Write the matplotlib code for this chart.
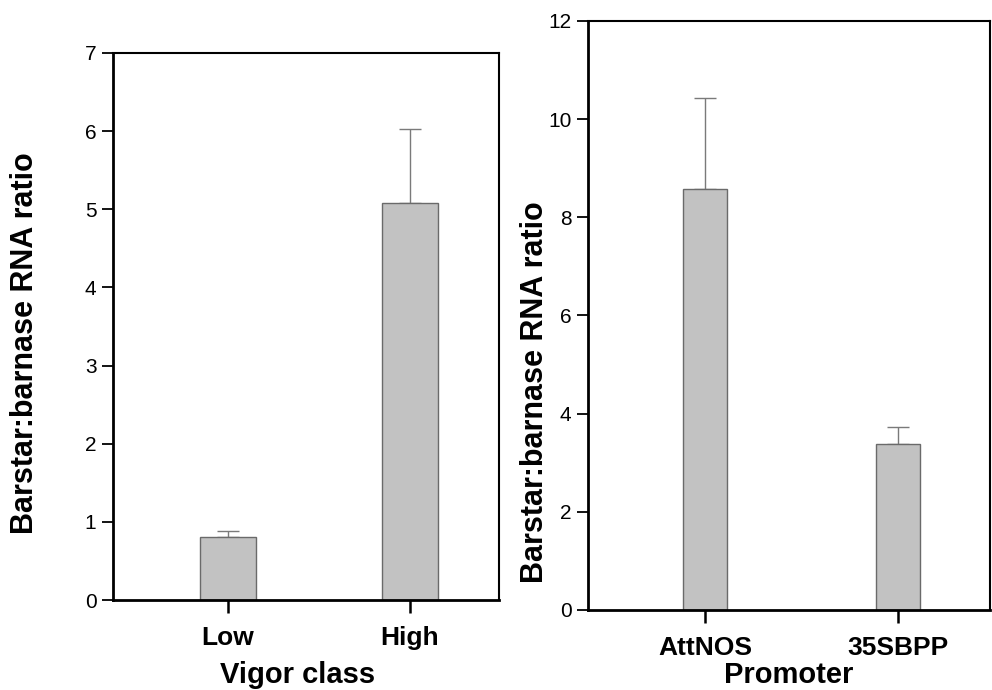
import matplotlib
matplotlib.use("Agg")
import matplotlib.pyplot as plt

plt.rcParams["font.family"] = ["Liberation Sans", "DejaVu Sans"]

# left panel
vigor = ["Low", "High"]
vigor_ratio = [0.80, 5.08]
vigor_err = [0.08, 0.94]

# right panel
promoter = ["AttNOS", "35SBPP"]
promoter_ratio = [8.57, 3.38]
promoter_err = [1.86, 0.34]

bar_col = "#c2c2c2"
edge_col = "#6a6a6a"

fig = plt.figure(figsize=(9.92, 6.9), dpi=100)
ax1 = fig.add_axes([0.114, 0.1304, 0.389, 0.793])
ax2 = fig.add_axes([0.593, 0.116, 0.405, 0.8536])


def draw(ax, cats, vals, errs, width, xlim, ylim, yticks, xlabel, ylab_pos, xlab_pos):
    x = list(range(len(cats)))
    ax.bar(x, vals, width=width, color=bar_col, edgecolor=edge_col, linewidth=1.0,
           zorder=2)
    ax.errorbar(x, vals, yerr=[[0] * len(errs), errs], fmt="none", ecolor="#7a7a7a",
                elinewidth=1.0, capsize=8, capthick=1.0, zorder=1)
    ax.set_xlim(*xlim)
    ax.set_ylim(*ylim)
    ax.set_yticks(yticks)
    ax.set_xticks(x)
    ax.set_xticklabels(cats, fontsize=19, fontweight="bold")
    ax.tick_params(axis="y", direction="out", length=8, width=1.3, labelsize=15, pad=4)
    ax.tick_params(axis="x", direction="out", length=9, width=1.8, pad=10)
    for s in ["left", "bottom"]:
        ax.spines[s].set_linewidth(2.0)
    for s in ["top", "right"]:
        ax.spines[s].set_linewidth(1.5)
    ax.set_ylabel("Barstar:barnase RNA ratio", fontsize=22, fontweight="bold")
    ax.yaxis.set_label_coords(*ylab_pos)
    ax.set_xlabel(xlabel, fontsize=21, fontweight="bold")
    ax.xaxis.set_label_coords(*xlab_pos)


draw(ax1, vigor, vigor_ratio, vigor_err, 0.31, (-0.632, 1.489), (0, 7), range(0, 8),
     "Vigor class", (-0.19, 0.47), (0.477, -0.112))
draw(ax2, promoter, promoter_ratio, promoter_err, 0.23, (-0.606, 1.477), (0, 12),
     range(0, 13, 2), "Promoter", (-0.095, 0.37), (0.5, -0.086))

fig.savefig("out.png", dpi=100)
